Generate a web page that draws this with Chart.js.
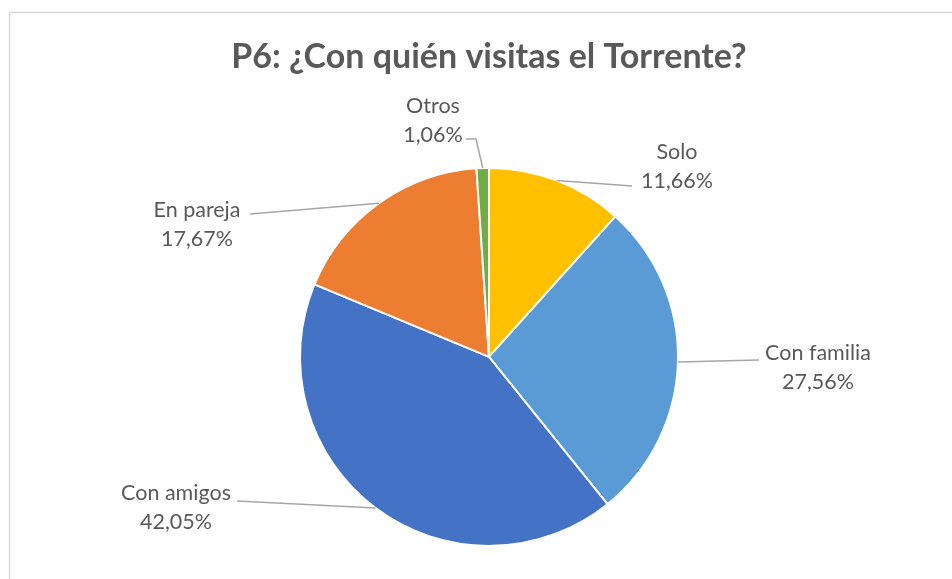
<!DOCTYPE html>
<html>
<head>
<meta charset="utf-8">
<script src="https://cdn.jsdelivr.net/npm/chart.js@4/dist/chart.umd.min.js"></script>
<style>
html,body{margin:0;padding:0;background:#fff;}
canvas{display:block;}
</style>
</head>
<body>
<canvas id="c" width="952" height="579"></canvas>
<script>
// ---- data ----
const titleText = 'P6: ¿Con quién visitas el Torrente?';
const categories = ['Solo', 'Con familia', 'Con amigos', 'En pareja', 'Otros'];
const percentages = [11.66, 27.56, 42.05, 17.67, 1.06];
const sliceColors = ['#FFC000', '#5B9BD5', '#4472C4', '#ED7D31', '#70AD47'];

// ---- label layout (center of first text line, and leader-line end) ----
const labelAnchors = [[677, 152], [818, 353], [176, 493], [197, 210], [433, 106]];
const leaderEnds = [[632, 186], [759, 360], [237, 501], [250, 214], [[476, 139], [466, 139]]];

const FONT = 'Lato, "Liberation Sans", sans-serif';
const fmt = v => v.toFixed(2).replace('.', ',') + '%';

const framePlugin = {
  id: 'frame',
  beforeDraw(chart) {
    const ctx = chart.ctx;
    ctx.save();
    ctx.fillStyle = '#fff';
    ctx.fillRect(0, 0, chart.width, chart.height);
    ctx.strokeStyle = '#d9d9d9';
    ctx.lineWidth = 1.5;
    ctx.strokeRect(9.5, 12.5, 1200, 1200);
    ctx.restore();
  }
};

const labelPlugin = {
  id: 'pieLabels',
  afterDatasetsDraw(chart) {
    const ctx = chart.ctx;
    const meta = chart.getDatasetMeta(0);
    ctx.save();
    meta.data.forEach((arc, i) => {
      const p = arc.getProps(['x', 'y', 'startAngle', 'endAngle', 'outerRadius'], true);
      const mid = (p.startAngle + p.endAngle) / 2;
      const sx = p.x + Math.cos(mid) * p.outerRadius;
      const sy = p.y + Math.sin(mid) * p.outerRadius;
      // leader line
      ctx.strokeStyle = '#a6a6a6';
      ctx.lineWidth = 1.5;
      ctx.beginPath();
      ctx.moveTo(sx, sy);
      const e = leaderEnds[i];
      if (Array.isArray(e[0])) { e.forEach(pt => ctx.lineTo(pt[0], pt[1])); }
      else ctx.lineTo(e[0], e[1]);
      ctx.stroke();
      // text
      const a = labelAnchors[i];
      ctx.fillStyle = '#595959';
      ctx.font = '21.5px ' + FONT;
      ctx.textAlign = 'center';
      ctx.textBaseline = 'middle';
      ctx.fillText(categories[i], a[0], a[1]);
      ctx.fillText(fmt(percentages[i]), a[0], a[1] + 29);
    });
    ctx.restore();
  }
};

function draw() {
  new Chart(document.getElementById('c'), {
    type: 'pie',
    data: {
      labels: categories,
      datasets: [{
        data: percentages,
        backgroundColor: sliceColors,
        borderColor: '#ffffff',
        borderWidth: 2
      }]
    },
    options: {
      responsive: false,
      animation: false,
      radius: 189,
      layout: { padding: { left: 100, right: 74, top: 0, bottom: 15 } },
      plugins: {
        legend: { display: false },
        tooltip: { enabled: false },
        title: {
          display: true,
          text: titleText,
          color: '#595959',
          font: { family: FONT, size: 34, weight: 'bold', lineHeight: 1.2 },
          padding: { top: 37, bottom: 72 }
        }
      }
    },
    plugins: [framePlugin, labelPlugin]
  });
}
if (document.fonts && document.fonts.load) {
  Promise.all([document.fonts.load('21.5px Lato'), document.fonts.load('bold 34px Lato')]).then(draw, draw);
} else draw();
</script>
</body>
</html>
